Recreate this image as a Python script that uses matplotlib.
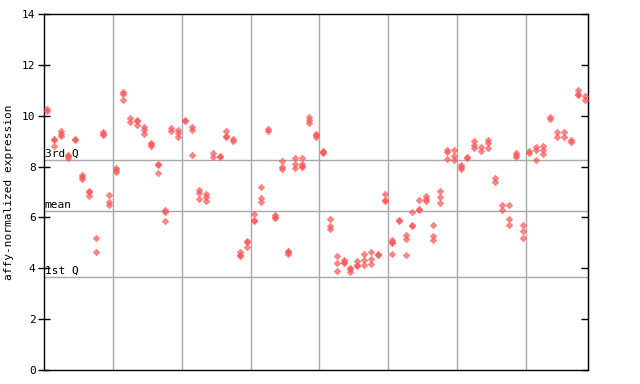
import matplotlib
matplotlib.use("Agg")
import matplotlib.pyplot as plt
import numpy as np

# replicate values per sample, grouped the way the vertical grid splits them
group1 = [[10.25, 10.2], [9.1, 9.05, 8.8], [9.4, 9.3, 9.2], [8.45, 8.4, 8.35],
          [9.1, 9.05], [7.65, 7.6, 7.5], [7.05, 7.0, 6.85], [5.2, 4.65],
          [9.35, 9.28, 9.25], [6.9, 6.6, 6.5]]
group2 = [[7.95, 7.85, 7.8], [10.95, 10.85, 10.6], [9.9, 9.75], [9.85, 9.78, 9.65],
          [9.54, 9.43, 9.3], [8.92, 8.87, 8.8], [8.1, 8.05, 7.73], [6.3, 6.21, 5.84],
          [9.5, 9.4], [9.43, 9.33, 9.15]]
group3 = [[9.82, 9.78], [9.54, 9.43, 8.44], [7.07, 6.97, 6.73], [6.92, 6.79, 6.66],
          [8.52, 8.36], [8.42, 8.37], [9.4, 9.2, 9.15], [9.07, 9.0],
          [4.66, 4.53, 4.48], [5.07, 5.02, 4.82]]
group4 = [[6.13, 5.9, 5.85], [7.18, 6.76, 6.6], [9.46, 9.38], [6.09, 6.0, 5.97],
          [8.2, 7.97, 7.89], [4.68, 4.63, 4.56], [8.32, 8.12, 7.93], [8.32, 8.12, 8.02, 7.97],
          [9.96, 9.83, 9.7], [9.3, 9.25, 9.17]]
group5 = [[8.62, 8.57, 8.52], [5.92, 5.67, 5.54], [4.48, 4.19, 3.88], [4.32, 4.25, 4.2],
          [4.01, 3.97, 3.86], [4.27, 4.13, 4.09], [4.58, 4.32, 4.11], [4.64, 4.38, 4.17],
          [4.58, 4.54], [6.92, 6.68, 6.63]]
group6 = [[5.11, 5.05, 5.0, 4.56], [5.9, 5.85], [5.29, 5.16, 4.51], [6.21, 5.69, 5.65],
          [6.68, 6.33, 6.29], [6.84, 6.73, 6.63], [5.69, 5.27, 5.11], [7.02, 6.79, 6.55],
          [8.65, 8.57, 8.31], [8.65, 8.41, 8.25]]
group7 = [[8.05, 8.0, 7.91], [8.38, 8.34], [8.99, 8.86, 8.75], [8.78, 8.62],
          [9.04, 8.91, 8.73], [7.55, 7.39], [6.47, 6.31], [6.47, 5.92, 5.71],
          [8.52, 8.47, 8.39], [5.71, 5.48, 5.21]]
group8 = [[8.6, 8.55], [8.78, 8.67, 8.25], [8.8, 8.67, 8.49], [9.93, 9.88],
          [9.36, 9.17], [9.36, 9.17], [9.03, 8.98], [11.0, 10.84, 10.8],
          [10.77, 10.61]]

quartile1 = 3.64
mean_val = 6.24
quartile3 = 8.24

samples = group1 + group2 + group3 + group4 + group5 + group6 + group7 + group8

mono = "DejaVu Sans Mono"
red = "#ff5555"
grid_grey = "#a8a8a8"

fig = plt.figure(figsize=(6.4, 3.84), dpi=100)
ax = fig.add_axes([44/640, 14/384, 544/640, 356/384])

n = len(samples)
for i in range(10, n, 10):
    ax.axvline(i - 0.5, color=grid_grey, linewidth=1, zorder=1)

for val, name in [(quartile3, "3rd Q"), (mean_val, "mean"), (quartile1, "1st Q")]:
    ax.axhline(val, color=grid_grey, linewidth=1, zorder=1)
    ax.text(-0.4, val + 0.05, name, fontsize=8, family=mono, ha="left", va="bottom", zorder=2)

for i, reps in enumerate(samples):
    ax.plot([i]*len(reps), reps, linestyle="None", marker="D", markersize=3.4,
            markerfacecolor=red, markeredgecolor=red, markeredgewidth=0.4,
            alpha=0.7, zorder=3)

ax.set_xlim(-0.5, n - 0.5)
ax.set_ylim(0, 14)
ax.set_xticks([])
ax.set_yticks(np.arange(0, 15, 2))
ax.set_yticklabels([str(v) for v in range(0, 15, 2)], family=mono, fontsize=8)
ax.tick_params(axis="y", direction="inout", length=8, width=1, pad=2)
ax.set_ylabel("affy-normalized expression", family=mono, fontsize=8, labelpad=6)

# right side: short inward ticks, no labels
right = ax.secondary_yaxis("right")
right.set_yticks(np.arange(0, 15, 2))
right.tick_params(direction="in", length=5, width=1, labelright=False)

for s in ax.spines.values():
    s.set_linewidth(1)
    s.set_color("black")

fig.savefig("out.png", dpi=100)
